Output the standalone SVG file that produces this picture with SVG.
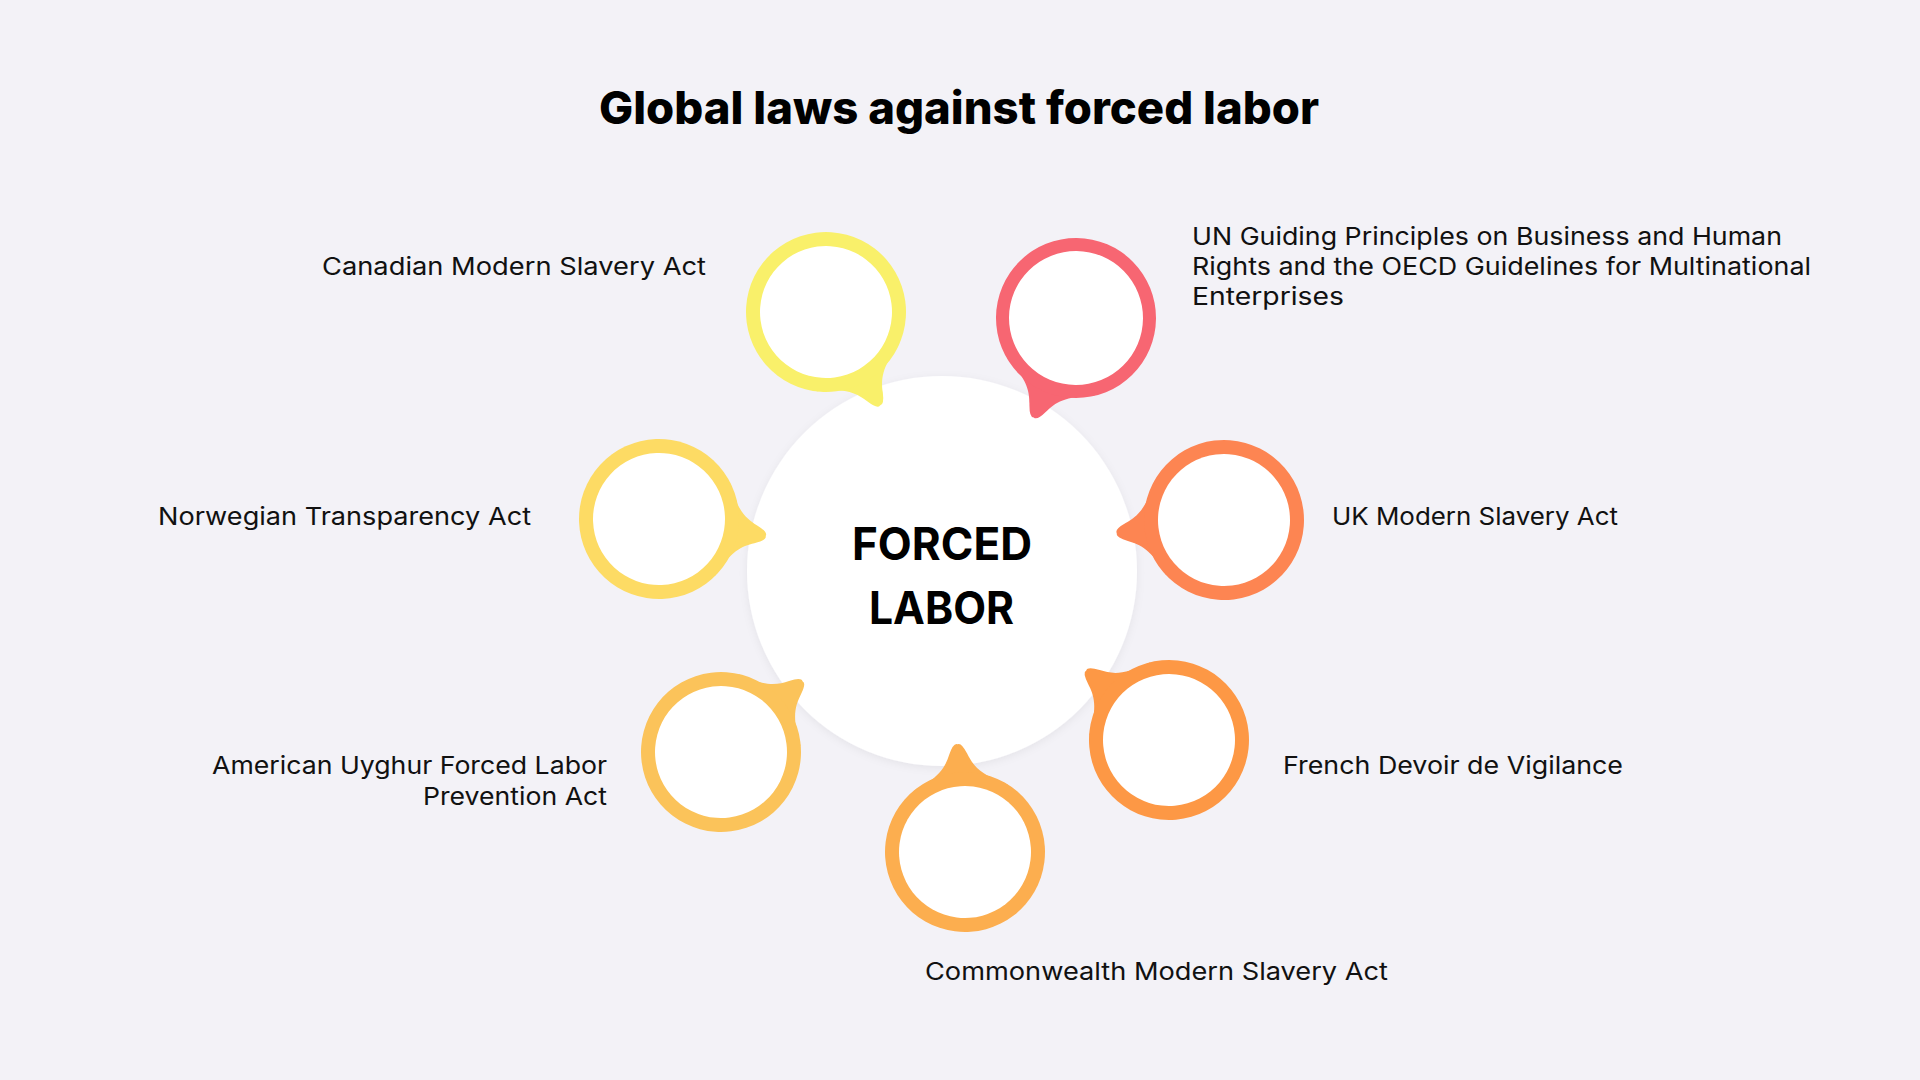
<svg xmlns="http://www.w3.org/2000/svg" width="1920" height="1080" viewBox="0 0 1920 1080">
<defs>
<style>
.lbl{font-family:Inter,"Liberation Sans",sans-serif;font-size:24.5px;fill:#111;}
.title{font-family:Inter,"Liberation Sans",sans-serif;font-size:45px;font-weight:800;fill:#000;}
.core{font-family:Inter,"Liberation Sans",sans-serif;font-size:45px;font-weight:700;fill:#000;}
.inner{fill:#fff;}
</style>
<path id="tail" d="M 64,-48 C 76,-20 86,-14 98,-9 Q 110,-4 108,0 Q 110,4 98,9 C 86,14 76,20 64,48 Z"/>
<filter id="sh" x="-20%" y="-20%" width="140%" height="140%">
<feDropShadow dx="0" dy="2" stdDeviation="4" flood-color="#000" flood-opacity="0.06"/>
</filter>
</defs>
<rect width="1920" height="1080" fill="#F3F2F7"/>
<text class="title" x="599" y="124" textLength="720" lengthAdjust="spacingAndGlyphs">Global laws against forced labor</text>

<g id="connectors"></g>

<g id="center">
<circle cx="942" cy="571" r="195" fill="#FFFFFF" filter="url(#sh)"/>
<text class="core" x="852" y="560" textLength="180" lengthAdjust="spacingAndGlyphs">FORCED</text>
<text class="core" x="869" y="624" textLength="145" lengthAdjust="spacingAndGlyphs">LABOR</text>
</g>

<g id="canadian">
<g transform="translate(826,312) rotate(60)" fill="#F9F06A">
<use href="#tail"/>
<circle r="80"/>
<circle r="66" class="inner"/>
</g>
<text class="lbl" x="322" y="275" textLength="384" lengthAdjust="spacingAndGlyphs">Canadian Modern Slavery Act</text>
</g>

<g id="un">
<g transform="translate(1076,318) rotate(113)" fill="#F76672">
<use href="#tail"/>
<circle r="80"/>
<circle r="67" class="inner"/>
</g>
<text class="lbl" x="1192" y="245" textLength="590" lengthAdjust="spacingAndGlyphs">UN Guiding Principles on Business and Human</text>
<text class="lbl" x="1192" y="275" textLength="619" lengthAdjust="spacingAndGlyphs">Rights and the OECD Guidelines for Multinational</text>
<text class="lbl" x="1192" y="305" textLength="152" lengthAdjust="spacingAndGlyphs">Enterprises</text>
</g>

<g id="norwegian">
<g transform="translate(659,519) rotate(9)" fill="#FDDB64">
<use href="#tail"/>
<circle r="80"/>
<circle r="66" class="inner"/>
</g>
<text class="lbl" x="158" y="525" textLength="373" lengthAdjust="spacingAndGlyphs">Norwegian Transparency Act</text>
</g>

<g id="uk">
<g transform="translate(1224,520) rotate(173)" fill="#FD8552">
<use href="#tail"/>
<circle r="80"/>
<circle r="66" class="inner"/>
</g>
<text class="lbl" x="1332" y="525" textLength="286" lengthAdjust="spacingAndGlyphs">UK Modern Slavery Act</text>
</g>

<g id="american">
<g transform="translate(721,752) rotate(-41)" fill="#FBC35A">
<use href="#tail"/>
<circle r="80"/>
<circle r="66" class="inner"/>
</g>
<text class="lbl" x="212" y="774" textLength="395" lengthAdjust="spacingAndGlyphs">American Uyghur Forced Labor</text>
<text class="lbl" x="423" y="805" textLength="184" lengthAdjust="spacingAndGlyphs">Prevention Act</text>
</g>

<g id="french">
<g transform="translate(1169,740) rotate(-140)" fill="#FD9845">
<use href="#tail"/>
<circle r="80"/>
<circle r="66" class="inner"/>
</g>
<text class="lbl" x="1283" y="774" textLength="340" lengthAdjust="spacingAndGlyphs">French Devoir de Vigilance</text>
</g>

<g id="commonwealth">
<g transform="translate(965,852) rotate(-94)" fill="#FCAE4F">
<use href="#tail"/>
<circle r="80"/>
<circle r="66" class="inner"/>
</g>
<text class="lbl" x="925" y="980" textLength="463" lengthAdjust="spacingAndGlyphs">Commonwealth Modern Slavery Act</text>
</g>
</svg>
